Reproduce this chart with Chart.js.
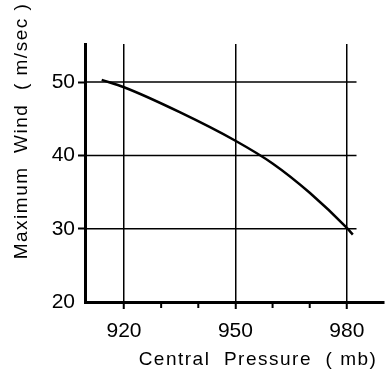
<!DOCTYPE html>
<html>
<head>
<meta charset="utf-8">
<script src="https://cdn.jsdelivr.net/npm/chart.js@4/dist/chart.umd.min.js"></script>
<style>
  html, body { margin: 0; padding: 0; background: #fff; }
  #wrap { width: 387px; height: 381px; }
</style>
</head>
<body>
<div id="wrap"><canvas id="myChart"></canvas></div>
<script>
// valores
const pressure = [914, 920, 935, 950, 960, 970, 980, 981.6];
const maxWind = [50.3, 49.3, 45.9, 42.0, 38.9, 34.9, 30.1, 29.2];

const xTicks = [920, 950, 980];
const xMinorTicks = [930, 940, 960, 970];
const yTicks = [20, 30, 40, 50];
const yGrid = [30, 40, 50];

const xTitle = 'Central  Pressure  ( mb)';
const yTitle = 'Maximum  Wind  ( m/sec )';

const FONT = "'Liberation Sans', sans-serif";

//* plugin para lineas de la rejilla, ticks menores y titulos
const extras = {
  id: 'extras',
  beforeDatasetsDraw(chart) {
    const { ctx, chartArea, scales } = chart;
    const x = scales.x, y = scales.y;
    ctx.save();
    ctx.strokeStyle = '#000';
    ctx.lineWidth = 1.5;
    const gridEnd = x.getPixelForValue(982.6);
    yGrid.forEach(v => {
      const py = y.getPixelForValue(v);
      ctx.beginPath();
      ctx.moveTo(chartArea.left, py);
      ctx.lineTo(gridEnd, py);
      ctx.stroke();
    });
    ctx.lineWidth = 2;
    xMinorTicks.forEach(v => {
      const px = x.getPixelForValue(v);
      ctx.beginPath();
      ctx.moveTo(px, chartArea.bottom);
      ctx.lineTo(px, chartArea.bottom + 6);
      ctx.stroke();
    });
    ctx.restore();
  },
  afterDraw(chart) {
    const { ctx } = chart;
    ctx.save();
    ctx.fillStyle = '#000';
    ctx.font = "19px 'Liberation Sans', sans-serif";
    ctx.textAlign = 'center';
    ctx.textBaseline = 'middle';
    ctx.letterSpacing = '1.5px';
    ctx.fillText(xTitle, 258, 360);
    ctx.translate(22, 131);
    ctx.rotate(-Math.PI / 2);
    ctx.fillText(yTitle, 0, 0);
    ctx.restore();
  }
};

const ctx = document.getElementById('myChart');

const myChart = new Chart(ctx, {
  type: 'line',
  data: {
    datasets: [{
      data: pressure.map((p, i) => ({ x: p, y: maxWind[i] })),
      borderColor: '#000',
      borderWidth: 2.5,
      pointRadius: 0,
      fill: false,
      cubicInterpolationMode: 'monotone'
    }]
  },
  options: {
    responsive: true,
    maintainAspectRatio: false,
    animation: false,
    layout: { padding: { top: 44, right: 3, left: 0, bottom: 0 } },
    plugins: {
      legend: { display: false },
      tooltip: { enabled: false }
    },
    scales: {
      x: {
        type: 'linear',
        min: 909.5,
        max: 990,
        afterBuildTicks: scale => { scale.ticks = xTicks.map(v => ({ value: v })); },
        afterFit: scale => { scale.height = 79; },
        grid: { color: '#000', lineWidth: 1.5, tickLength: 7, tickWidth: 2 },
        border: { color: '#000', width: 3 },
        ticks: { color: '#000', font: { family: FONT, size: 21 }, padding: 10, maxRotation: 0 }
      },
      y: {
        min: 20,
        max: 55.2,
        afterBuildTicks: scale => { scale.ticks = yTicks.map(v => ({ value: v })); },
        afterFit: scale => { scale.width = 85; },
        grid: {
          drawOnChartArea: false,
          tickLength: 7,
          tickWidth: 2,
          color: c => (c.tick && c.tick.value === 20) ? 'rgba(0,0,0,0)' : '#000'
        },
        border: { color: '#000', width: 3 },
        ticks: { color: '#000', font: { family: FONT, size: 21 }, padding: 3 }
      }
    }
  },
  plugins: [extras]
});
</script>
</body>
</html>
